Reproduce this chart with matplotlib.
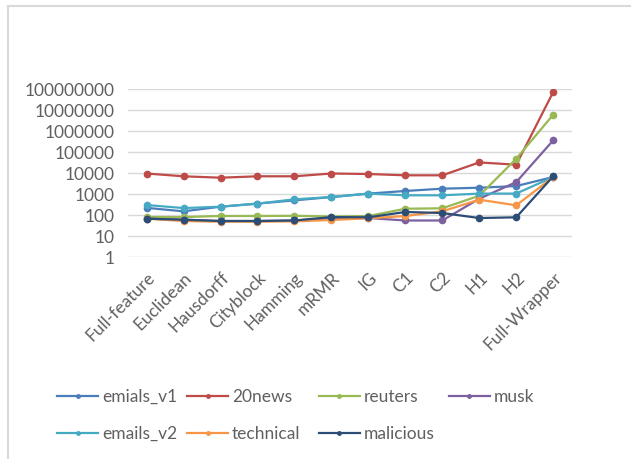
import matplotlib
matplotlib.use('Agg')
import matplotlib.pyplot as plt
from matplotlib.lines import Line2D

plt.rcParams['font.family'] = ['Lato', 'DejaVu Sans']

methods = ['Full-feature', 'Euclidean', 'Hausdorff', 'Cityblock', 'Hamming', 'mRMR',
           'IG', 'C1', 'C2', 'H1', 'H2', 'Full-Wrapper']

emials_v1 = [220, 150, 250, 350, 500, 720, 1050, 1400, 1800, 2000, 2400, 6500]
news20 = [9500, 7000, 6000, 7000, 7000, 9500, 9000, 7800, 7800, 32000, 25000, 72000000]
reuters = [80, 80, 90, 90, 92, 85, 90, 200, 210, 830, 48000, 6000000]
musk = [67, 60, 52, 52, 55, 70, 72, 55, 55, 600, 3700, 360000]
emails_v2 = [300, 215, 250, 350, 560, 720, 1050, 870, 870, 1050, 1050, 6500]
technical = [67, 52, 48, 48, 50, 58, 70, 90, 150, 540, 290, 6500]
malicious = [67, 60, 52, 52, 55, 80, 78, 140, 125, 72, 78, 7000]

series = [
    ('emials_v1', emials_v1, '#4A7EBB'),
    ('20news', news20, '#BE4B48'),
    ('reuters', reuters, '#98B954'),
    ('musk', musk, '#7D60A0'),
    ('emails_v2', emails_v2, '#46AAC5'),
    ('technical', technical, '#F79646'),
    ('malicious', malicious, '#2C4D75'),
]

fig = plt.figure(figsize=(6.31, 4.59), dpi=100)
ax = fig.add_axes([0.203, 0.440, 0.703, 0.366])

x = range(len(methods))
handles = {}
for name, vals, col in series:
    ax.plot(x, vals, color=col, linewidth=1.6, marker='o', markersize=4.5, zorder=3)
    handles[name] = Line2D([], [], color=col, linewidth=1.6, marker='o', markersize=2.5)

ax.set_yscale('log')
ax.set_ylim(1, 1e8)
ax.set_yticks([10 ** k for k in range(9)])
ax.set_yticklabels([str(10 ** k) for k in range(9)])
ax.minorticks_off()
ax.set_xlim(-0.5, len(methods) - 0.5)
ax.set_xticks(list(x))
ax.set_xticklabels(methods, rotation=45, ha='right', va='top', rotation_mode='anchor')

ax.grid(axis='y', color='#D9D9D9', linewidth=1)
ax.set_axisbelow(True)
for s in ax.spines.values():
    s.set_visible(False)
ax.tick_params(length=0, labelsize=12.5, labelcolor='#606060')
ax.tick_params(axis='y', pad=10)
ax.tick_params(axis='x', pad=9)

# legend: Excel-style fixed-width columns, one small legend per column
columns = [['emials_v1', 'emails_v2'], ['20news', 'technical'], ['reuters', 'malicious'], ['musk']]
col_x = [0.090, 0.296, 0.505, 0.711]
for names, cx in zip(columns, col_x):
    leg = fig.legend([handles[n] for n in names], names, loc='upper left',
                     bbox_to_anchor=(cx, 0.152), frameon=False,
                     fontsize=12.5, handlelength=2.4, handletextpad=0.2,
                     labelspacing=1.2, borderpad=0, borderaxespad=0)
    for t in leg.get_texts():
        t.set_color('#606060')

# outer chart border (only top and left visible in the original)
fig.add_artist(Line2D([0.013, 1.0], [0.987, 0.987], color='#D9D9D9', linewidth=1.5))
fig.add_artist(Line2D([0.013, 0.013], [0.0, 0.987], color='#D9D9D9', linewidth=1.5))

fig.savefig('out.png', dpi=100)
